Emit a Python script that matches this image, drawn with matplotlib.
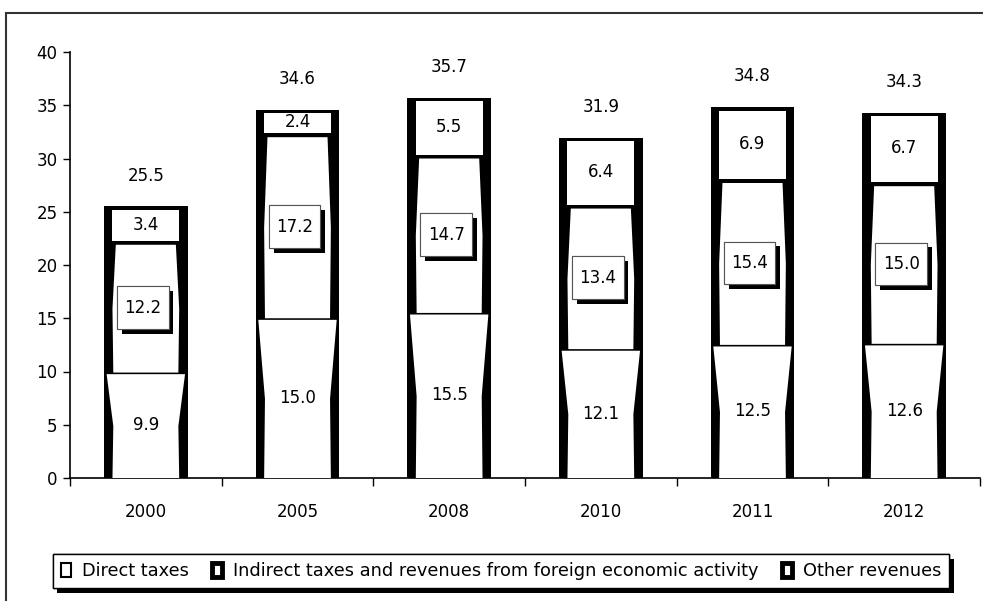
import matplotlib
matplotlib.use('Agg')
import matplotlib.pyplot as plt
import matplotlib.patheffects as pe
from matplotlib.patches import Patch, Rectangle
import numpy as np

years = ['2000', '2005', '2008', '2010', '2011', '2012']
direct = [9.9, 15.0, 15.5, 12.1, 12.5, 12.6]
indirect = [12.2, 17.2, 14.7, 13.4, 15.4, 15.0]
other = [3.4, 2.4, 5.5, 6.4, 6.9, 6.7]
totals = [25.5, 34.6, 35.7, 31.9, 34.8, 34.3]
series_names = ['Direct taxes',
                'Indirect taxes and revenues from foreign economic activity',
                'Other revenues']

plt.rcParams['font.family'] = 'DejaVu Sans'

fig = plt.figure(figsize=(9.83, 6.01), dpi=100)
ax = fig.add_axes([70/983, 1-478/601, 910/983, (478-52)/601])

x = np.arange(len(years))
bw = 0.55
d = np.array(direct)
ind = np.array(indirect)
oth = np.array(other)

# black outer bars (stacked)
ax.bar(x, d, bw, color='black', zorder=2)
ax.bar(x, ind, bw, bottom=d, color='black', zorder=2)
ax.bar(x, oth, bw, bottom=d+ind, color='black', zorder=2)


# white inner shapes that mimic the broken gradient fill
def inner(xc, bottom, h, wtop, wmid, wbot, gap=0.25, bgap=0.0):
    y0 = bottom + bgap
    y1 = bottom + h - gap
    ym = (y0 + y1) / 2
    xs = [xc - bw*wbot/2, xc + bw*wbot/2, xc + bw*wmid/2, xc + bw*wtop/2,
          xc - bw*wtop/2, xc - bw*wmid/2]
    ys = [y0, y0, ym, y1, y1, ym]
    ax.fill(xs, ys, color='white', zorder=3, lw=0)


for i in x:
    inner(i, 0, d[i], 0.94, 0.78, 0.8, gap=0.15)
    inner(i, d[i], ind[i], 0.72, 0.8, 0.78, gap=0.2)
    inner(i, d[i]+ind[i], oth[i], 0.8, 0.8, 0.8, gap=0.3, bgap=0.15)

# value labels
for i in x:
    ax.text(i, d[i]/2, f'{d[i]:.1f}', ha='center', va='center', fontsize=12, zorder=6)
    ax.text(i, d[i]+ind[i]+oth[i]/2, f'{oth[i]:.1f}', ha='center', va='center',
            fontsize=12, zorder=6)
    ax.text(i, totals[i] + 2.9, f'{totals[i]:.1f}', ha='center', va='center', fontsize=12)
    ym = d[i] + ind[i]/2
    box = Rectangle((i - 0.02 - 0.17, ym - 2.0), 0.34, 4.0, facecolor='white',
                    edgecolor='#555555', lw=0.8, zorder=5)
    box.set_path_effects([pe.withSimplePatchShadow(offset=(3.5, -3.5), shadow_rgbFace='black',
                                                   alpha=1), pe.Normal()])
    ax.add_patch(box)
    ax.text(i - 0.02, ym, f'{ind[i]:.1f}', ha='center', va='center', fontsize=12, zorder=6)

ax.set_xlim(-0.5, len(years) - 0.5)
ax.set_ylim(0, 40)
ax.set_yticks(range(0, 41, 5))
ax.set_xticks(x)
ax.set_xticklabels(years)
ax.set_xticks(np.arange(-0.5, len(years), 1), minor=True)
ax.tick_params(axis='x', which='major', length=0, labelsize=12, pad=18)
ax.tick_params(axis='x', which='minor', length=6, width=1, direction='out')
ax.tick_params(axis='y', length=5, width=1, direction='out', labelsize=12, pad=4)
for s in ['top', 'right']:
    ax.spines[s].set_visible(False)
for s in ['left', 'bottom']:
    ax.spines[s].set_linewidth(1.2)

handles = [Patch(facecolor='white', edgecolor='black', lw=1.5),
           Patch(facecolor='white', edgecolor='black', lw=3.5),
           Patch(facecolor='white', edgecolor='black', lw=3.5)]
leg = fig.legend(handles, series_names, loc='center', ncol=3,
                 bbox_to_anchor=(501/983, 1-571/601), fontsize=12.8, frameon=True,
                 fancybox=False, edgecolor='black', framealpha=1, facecolor='white',
                 handlelength=0.6, handleheight=0.8,
                 handletextpad=0.6, columnspacing=1.3, borderpad=0.45)
leg.get_frame().set_linewidth(1.0)
leg.get_frame().set_path_effects([pe.withSimplePatchShadow(offset=(3.5, -3.5),
                                                           shadow_rgbFace='black', alpha=1),
                                  pe.Normal()])

# outer chart-area border
fig.patches.append(Rectangle((6/983, -0.1), 1.2, 1.1 - 13/601, transform=fig.transFigure,
                             fill=False, edgecolor='#333333', lw=1.5))

fig.savefig('out.png', dpi=100)
